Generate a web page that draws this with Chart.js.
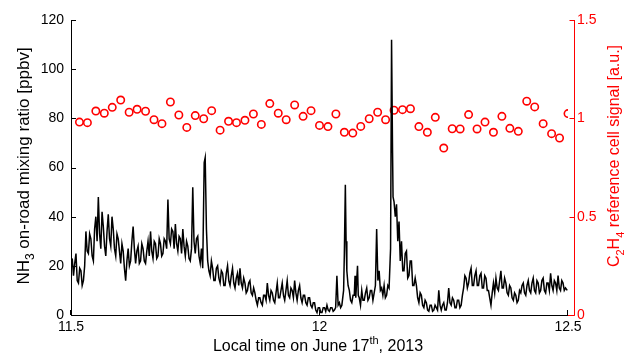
<!DOCTYPE html>
<html>
<head>
<meta charset="utf-8">
<title>NH3 and C2H4 reference signal</title>
<script src="https://cdn.jsdelivr.net/npm/chart.js@4.4.1/dist/chart.umd.min.js"></script>
<style>
  html, body { margin: 0; padding: 0; background: #fff; }
  #wrap { width: 627px; height: 356px; }
</style>
</head>
<body>
<div id="wrap"><canvas id="chart" width="627" height="356"></canvas></div>
<script>
/* global Chart */

// NH3 on-road mixing ratio [ppbv], local time in decimal hours
const nh3Time = [
  11.500, 11.5025, 11.505, 11.5075, 11.510, 11.5125, 11.515, 11.5175, 11.520, 11.5225,
  11.525, 11.5275, 11.530, 11.5325, 11.535, 11.5375, 11.540, 11.5425, 11.545, 11.5475,
  11.550, 11.5525, 11.555, 11.5575, 11.560, 11.5625, 11.565, 11.5675, 11.570, 11.5725,
  11.575, 11.5775, 11.580, 11.5825, 11.585, 11.5875, 11.590, 11.5925, 11.595, 11.5975,
  11.600, 11.6025, 11.605, 11.6075, 11.610, 11.6125, 11.615, 11.6175, 11.620, 11.6225,
  11.625, 11.6275, 11.630, 11.6325, 11.635, 11.6375, 11.640, 11.6425, 11.645, 11.6475,
  11.650, 11.6525, 11.655, 11.6575, 11.660, 11.6625, 11.665, 11.6675, 11.670, 11.6725,
  11.675, 11.6775, 11.680, 11.6825, 11.685, 11.6875, 11.690, 11.6925, 11.695, 11.6975,
  11.700, 11.7025, 11.705, 11.7075, 11.710, 11.7125, 11.715, 11.7175, 11.720, 11.7225,
  11.725, 11.7275, 11.730, 11.7325, 11.735, 11.7375, 11.740, 11.7425, 11.745, 11.7475,
  11.750, 11.7525, 11.755, 11.7575, 11.760, 11.7625, 11.765, 11.768, 11.770, 11.7725,
  11.775, 11.7775, 11.780, 11.7825, 11.785, 11.7875, 11.790, 11.7925, 11.795, 11.7975,
  11.800, 11.8025, 11.805, 11.8075, 11.810, 11.8125, 11.815, 11.8175, 11.820, 11.8225,
  11.825, 11.8275, 11.830, 11.8325, 11.835, 11.8375, 11.840, 11.8425, 11.845, 11.8475,
  11.850, 11.8525, 11.855, 11.8575, 11.860, 11.8625, 11.865, 11.8675, 11.870, 11.8725,
  11.875, 11.8775, 11.880, 11.8825, 11.885, 11.8875, 11.890, 11.8925, 11.895, 11.8975,
  11.900, 11.9025, 11.905, 11.9075, 11.910, 11.9125, 11.915, 11.9175, 11.920, 11.9225,
  11.925, 11.9275, 11.930, 11.9325, 11.935, 11.9375, 11.940, 11.9425, 11.945, 11.9475,
  11.950, 11.9525, 11.955, 11.9575, 11.960, 11.9625, 11.965, 11.9675, 11.970, 11.9725,
  11.975, 11.9775, 11.980, 11.9825, 11.985, 11.9875, 11.990, 11.9925, 11.995, 11.9975,
  12.000, 12.0025, 12.005, 12.0075, 12.010, 12.0125, 12.015, 12.0175, 12.020, 12.0225,
  12.025, 12.0275, 12.030, 12.0325, 12.035, 12.0375, 12.040, 12.0425, 12.045, 12.0485,
  12.050, 12.052, 12.0535, 12.055, 12.0575, 12.060, 12.0625, 12.065, 12.0675, 12.070,
  12.0715, 12.073, 12.0765, 12.078, 12.080, 12.0825, 12.085, 12.0875, 12.090, 12.0925,
  12.095, 12.0975, 12.100, 12.1025, 12.105, 12.1075, 12.110, 12.1125, 12.115, 12.1175,
  12.120, 12.1225, 12.125, 12.1275, 12.130, 12.1325, 12.135, 12.1375, 12.140, 12.143,
  12.145, 12.147, 12.148, 12.150, 12.1525, 12.155, 12.1575, 12.160, 12.1625, 12.165,
  12.1675, 12.170, 12.1725, 12.175, 12.1775, 12.180, 12.1825, 12.185, 12.1875, 12.190,
  12.1925, 12.195, 12.1975, 12.200, 12.2025, 12.205, 12.2075, 12.210, 12.2125, 12.215,
  12.2175, 12.220, 12.2225, 12.225, 12.2275, 12.230, 12.2325, 12.235, 12.2375, 12.240,
  12.2425, 12.245, 12.2475, 12.250, 12.2525, 12.255, 12.2575, 12.260, 12.2625, 12.265,
  12.2675, 12.270, 12.2725, 12.275, 12.2775, 12.280, 12.2825, 12.285, 12.2875, 12.290,
  12.2925, 12.295, 12.2975, 12.300, 12.3025, 12.305, 12.3075, 12.310, 12.3125, 12.315,
  12.3175, 12.320, 12.3225, 12.325, 12.3275, 12.330, 12.3325, 12.335, 12.3375, 12.340,
  12.3425, 12.345, 12.3475, 12.350, 12.3525, 12.355, 12.3575, 12.360, 12.3625, 12.365,
  12.3675, 12.370, 12.3725, 12.375, 12.3775, 12.380, 12.3825, 12.385, 12.3875, 12.390,
  12.3925, 12.395, 12.3975, 12.400, 12.4025, 12.405, 12.4075, 12.410, 12.4125, 12.415,
  12.4175, 12.420, 12.4225, 12.425, 12.4275, 12.430, 12.4325, 12.435, 12.4375, 12.440,
  12.4425, 12.445, 12.4475, 12.450, 12.4525, 12.455, 12.4575, 12.460, 12.4625, 12.465,
  12.4675, 12.470, 12.4725, 12.475, 12.4775, 12.480, 12.4825, 12.485, 12.4875, 12.490,
  12.4925, 12.495, 12.4985
]

const nh3Value = [
  19, 23, 16, 21, 25, 14, 13, 19, 18, 12,
  14, 20, 34, 26, 25, 33, 31, 24, 22, 35,
  40, 30, 48, 33, 27, 42, 36, 28, 24, 34,
  41, 31, 28, 40, 35, 27, 24, 33, 31, 26,
  21, 29, 26, 19, 14, 22, 27, 20, 22, 30,
  36, 27, 21, 26, 28, 21, 22, 29, 27, 22,
  21, 26, 30, 24, 34, 26, 23, 30, 29, 23,
  24, 31, 29, 24, 25, 31, 30, 27, 47, 31,
  29, 35, 34, 27, 37, 29, 26, 32, 31, 25,
  35, 28, 24, 30, 28, 23, 22, 27, 52, 30,
  25, 31, 32, 24, 21, 27, 19, 62, 64, 35,
  22, 18, 16, 22, 19, 14, 14, 19, 20, 15,
  13, 18, 17, 12, 12, 17, 20, 14, 12, 16,
  19, 13, 11, 15, 17, 12, 19, 13, 11, 15,
  13, 9, 10, 13, 14, 9, 8, 11, 9, 6,
  4, 7, 7, 5, 4, 8, 8, 6, 13, 8,
  6, 10, 9, 6, 5, 9, 13, 7, 7, 10,
  13, 8, 6, 10, 14, 8, 7, 11, 10, 7,
  14, 9, 6, 10, 12, 7, 5, 8, 8, 5,
  4, 7, 7, 4, 3, 5, 5, 2, 1, 3,
  3, 1, 1, 3, 3, 1.5, 4, 2, 1.5, 3,
  3, 1.5, 2, 3, 16, 4, 5, 3, 4, 10,
  25, 53, 30, 18, 12, 10, 6, 5, 8, 8,
  16, 7, 20, 8, 7, 4, 10, 6, 6, 9,
  11, 6, 7, 10, 10, 6, 9, 12, 35, 14,
  18, 10, 11, 8, 12, 7, 8, 12, 11, 27,
  112, 66, 48, 46, 40, 45, 30, 38, 22, 30,
  18, 18, 25, 26, 15, 16, 22, 22, 12, 12,
  15, 12, 7, 5, 9, 8, 4, 3, 6, 5,
  2, 1.5, 4, 4, 1.5, 2, 4, 3, 2, 10,
  4, 2, 4, 5, 2, 2, 5, 11, 5, 4,
  7, 6, 3, 3, 6, 6, 3, 4, 8, 11,
  16, 15, 11, 13, 17, 19, 12, 12, 16, 18,
  12, 12, 16, 17, 11, 11, 16, 15, 10, 10,
  7, 4, 9, 13, 9, 15, 11, 10, 14, 18,
  11, 11, 15, 13, 9, 8, 12, 11, 7, 6,
  9, 8, 5, 6, 10, 9, 12, 13, 9, 8,
  12, 14, 10, 9, 13, 15, 10, 9, 14, 13,
  9, 10, 14, 15, 10, 9, 13, 13, 10, 17,
  12, 10, 14, 13, 10, 16, 11, 10, 14, 13,
  10, 11, 10
]

// C2H4 reference cell signal [a.u.], one reading per minute
const c2h4Time = [
  11.517, 11.533, 11.550, 11.567, 11.583, 11.600, 11.617, 11.633, 11.650, 11.667,
  11.683, 11.700, 11.717, 11.733, 11.750, 11.767, 11.783, 11.800, 11.817, 11.833,
  11.850, 11.867, 11.883, 11.900, 11.917, 11.933, 11.950, 11.967, 11.983, 12.000,
  12.017, 12.033, 12.050, 12.067, 12.083, 12.100, 12.117, 12.133, 12.150, 12.167,
  12.183, 12.200, 12.217, 12.233, 12.250, 12.267, 12.283, 12.300, 12.317, 12.333,
  12.350, 12.367, 12.383, 12.400, 12.417, 12.433, 12.450, 12.467, 12.483, 12.500
]

const c2h4Value = [
  0.981, 0.978, 1.037, 1.026, 1.056, 1.093, 1.031, 1.046, 1.036, 0.993,
  0.973, 1.083, 1.017, 0.954, 1.014, 0.998, 1.039, 0.940, 0.985, 0.978,
  0.990, 1.022, 0.969, 1.075, 1.026, 0.993, 1.068, 1.010, 1.039, 0.964,
  0.958, 1.022, 0.929, 0.925, 0.959, 0.998, 1.031, 0.993, 1.041, 1.044,
  1.049, 0.958, 0.929, 1.005, 0.849, 0.947, 0.946, 1.019, 0.946, 0.981,
  0.929, 1.010, 0.949, 0.934, 1.087, 1.058, 0.973, 0.922, 0.900, 1.024
]

const xTicks = [11.5, 12, 12.5]
const yTicks = [0, 20, 40, 60, 80, 100, 120]
const y1Ticks = [0, 0.5, 1, 1.5]

// [text, kind] where kind 0 = normal, 1 = subscript, 2 = superscript
const xTitle = [['Local time on June 17', 0], ['th', 2], [', 2013', 0]]
const yTitle = [['NH', 0], ['3', 1], [' on-road mixing ratio [ppbv]', 0]]
const y1Title = [['C', 0], ['2', 1], ['H', 0], ['4', 1], [' reference cell signal [a.u.]', 0]]

const RED = '#ff0000'
const FONT = "'Liberation Sans', Arial, Helvetica, sans-serif"
const TICK_SIZE = 14

function drawRichText (ctx, parts, size) {
  const pieces = parts.map(([text, kind]) => {
    const s = kind ? Math.round(size * 0.68) : size
    ctx.font = `${s}px ${FONT}`
    return { text, kind, s, w: ctx.measureText(text).width }
  })
  const total = pieces.reduce((sum, p) => sum + p.w, 0)
  let x = -total / 2
  ctx.textAlign = 'left'
  ctx.textBaseline = 'alphabetic'
  pieces.forEach((p) => {
    ctx.font = `${p.s}px ${FONT}`
    let dy = 0
    if (p.kind === 1) dy = size * 0.3
    if (p.kind === 2) dy = -size * 0.42
    ctx.fillText(p.text, x, dy)
    x += p.w
  })
}

function strokeLine (ctx, x1, y1, x2, y2) {
  ctx.beginPath()
  ctx.moveTo(x1, y1)
  ctx.lineTo(x2, y2)
  ctx.stroke()
}

// inward tick marks, the offset red axis and the axis titles
const axisDecor = {
  id: 'axisDecor',
  afterDraw (chart) {
    const { ctx, chartArea, scales } = chart
    const { left, right, top, bottom } = chartArea
    const redX = right + 6.5
    ctx.save()
    ctx.lineWidth = 1

    ctx.strokeStyle = '#000'
    scales.y.ticks.forEach((t) => {
      const y = Math.round(scales.y.getPixelForValue(t.value)) + 0.5
      strokeLine(ctx, left, y, left + 5, y)
    })
    scales.x.ticks.forEach((t) => {
      const x = Math.round(scales.x.getPixelForValue(t.value)) - 0.5
      strokeLine(ctx, x, bottom, x, bottom - 5)
    })

    ctx.strokeStyle = RED
    strokeLine(ctx, redX, top, redX, bottom + 0.5)
    strokeLine(ctx, right, bottom + 0.5, redX, bottom + 0.5)
    scales.y1.ticks.forEach((t) => {
      const y = Math.round(scales.y1.getPixelForValue(t.value)) + 0.5
      strokeLine(ctx, redX, y, redX - 5, y)
    })

    ctx.fillStyle = '#000'
    ctx.save()
    ctx.translate(29, 166)
    ctx.rotate(-Math.PI / 2)
    drawRichText(ctx, yTitle, 17)
    ctx.restore()

    ctx.save()
    ctx.translate(318, 351)
    drawRichText(ctx, xTitle, 16)
    ctx.restore()

    ctx.fillStyle = RED
    ctx.save()
    ctx.translate(619, 156)
    ctx.rotate(-Math.PI / 2)
    drawRichText(ctx, y1Title, 16)
    ctx.restore()

    ctx.restore()
  }
}

const ctx = document.getElementById('chart').getContext('2d')

new Chart(ctx, {
  type: 'line',
  data: {
    datasets: [
      {
        label: 'NH3',
        data: nh3Time.map((t, i) => ({ x: t, y: nh3Value[i] })),
        borderColor: '#000',
        borderWidth: 1.5,
        pointRadius: 0,
        tension: 0,
        yAxisID: 'y'
      },
      {
        label: 'C2H4',
        data: c2h4Time.map((t, i) => ({ x: t, y: c2h4Value[i] })),
        showLine: false,
        pointStyle: 'circle',
        pointRadius: 3.7,
        pointBorderWidth: 1.6,
        pointBorderColor: RED,
        pointBackgroundColor: 'rgba(255,255,255,0)',
        borderColor: RED,
        yAxisID: 'y1'
      }
    ]
  },
  options: {
    responsive: false,
    animation: false,
    layout: { padding: { top: 20, left: 0, right: 0, bottom: 0 } },
    plugins: {
      legend: { display: false },
      tooltip: { enabled: false }
    },
    scales: {
      x: {
        type: 'linear',
        min: 11.5,
        max: 12.5,
        afterBuildTicks: (scale) => { scale.ticks = xTicks.map((v) => ({ value: v })) },
        afterFit: (scale) => { scale.height = 41 },
        grid: { display: true, drawOnChartArea: false, drawTicks: false },
        border: { display: true, color: '#000', width: 1 },
        ticks: {
          color: '#000',
          padding: 4,
          font: { family: FONT, size: TICK_SIZE },
          maxRotation: 0,
          callback: (v) => String(v)
        }
      },
      y: {
        position: 'left',
        min: 0,
        max: 120,
        afterBuildTicks: (scale) => { scale.ticks = yTicks.map((v) => ({ value: v })) },
        afterFit: (scale) => { scale.width = 71 },
        grid: { display: true, drawOnChartArea: false, drawTicks: false },
        border: { display: true, color: '#000', width: 1 },
        ticks: {
          color: '#000',
          padding: 7,
          font: { family: FONT, size: TICK_SIZE },
          callback: (v) => String(v)
        }
      },
      y1: {
        position: 'right',
        min: 0,
        max: 1.5,
        afterBuildTicks: (scale) => { scale.ticks = y1Ticks.map((v) => ({ value: v })) },
        afterFit: (scale) => { scale.width = 59 },
        grid: { display: false, drawTicks: false },
        border: { display: false },
        ticks: {
          color: RED,
          padding: 9,
          font: { family: FONT, size: TICK_SIZE },
          callback: (v) => String(v)
        }
      }
    }
  },
  plugins: [axisDecor]
})
</script>
</body>
</html>
